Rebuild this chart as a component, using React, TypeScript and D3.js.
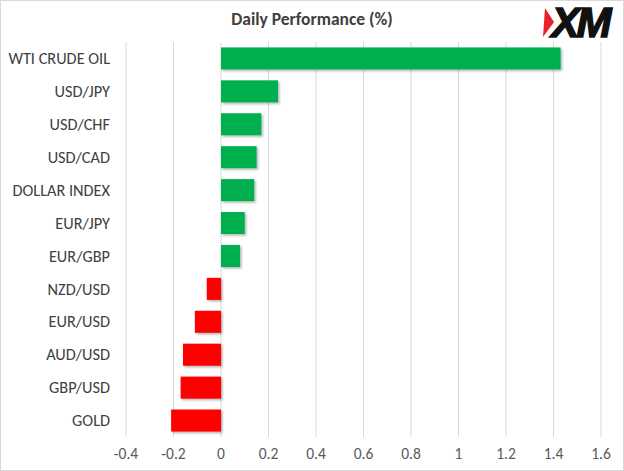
import React from "react";
import * as d3 from "d3";

const categories = [
  "WTI CRUDE OIL",
  "USD/JPY",
  "USD/CHF",
  "USD/CAD",
  "DOLLAR INDEX",
  "EUR/JPY",
  "EUR/GBP",
  "NZD/USD",
  "EUR/USD",
  "AUD/USD",
  "GBP/USD",
  "GOLD",
];
const values = [1.43, 0.24, 0.17, 0.15, 0.14, 0.1, 0.08, -0.06, -0.11, -0.16, -0.17, -0.21];
const ticks = [-0.4, -0.2, 0, 0.2, 0.4, 0.6, 0.8, 1, 1.2, 1.4, 1.6];
const tickLabels = ["-0.4", "-0.2", "0", "0.2", "0.4", "0.6", "0.8", "1", "1.2", "1.4", "1.6"];
const title = "Daily Performance (%)";

const W = 624;
const H = 471;
const font = "Calibri, Carlito, Lato, 'Open Sans', sans-serif";

export default function App() {
  const x = d3.scaleLinear().domain([-0.4, 1.6]).range([126, 601]);
  const y = d3.scaleBand<string>().domain(categories).range([42, 437]).paddingInner(0.33).paddingOuter(0.165);
  return (
    <svg
      width={W}
      height={H}
      style={{ position: "absolute", left: 0, top: 0, background: "#fff" }}
    >
      <defs>
        <filter id="sh" x="-10%" y="-30%" width="130%" height="180%">
          <feDropShadow dx="1.5" dy="1.5" stdDeviation="1" floodColor="#000" floodOpacity="0.3" />
        </filter>
      </defs>
      <rect x={0.5} y={0.5} width={W - 1} height={H - 1} fill="#fff" stroke="#d9d9d9" />
      <text x={312} y={25} textAnchor="middle" fontFamily={font} fontWeight="bold" fontSize={17.5} fill="#404040">
        {title}
      </text>
      {ticks.map((t) => (
        <line key={"g" + t} x1={x(t)} x2={x(t)} y1={42} y2={437} stroke="#d9d9d9" strokeWidth={1} />
      ))}
      {categories.map((c, i) => {
        const v = values[i];
        return (
          <rect
            key={c}
            x={x(Math.min(0, v))}
            y={y(c)}
            width={Math.abs(x(v) - x(0))}
            height={y.bandwidth()}
            fill={v >= 0 ? "#00b050" : "#ff0000"}
            filter="url(#sh)"
          />
        );
      })}
      {categories.map((c) => (
        <text
          key={"l" + c}
          x={110}
          y={(y(c) as number) + y.bandwidth() / 2}
          dy="0.35em"
          textAnchor="end"
          fontFamily={font}
          fontSize={16.3}
          fill="#404040"
        >
          {c}
        </text>
      ))}
      {ticks.map((t, i) => (
        <text key={"t" + t} x={x(t)} y={459} textAnchor="middle" fontFamily={font} fontSize={15.5} fill="#595959">
          {tickLabels[i]}
        </text>
      ))}
      <g>
        <polygon points="545,8 554,22 543,37" fill="#e8202a" />
        <text
          x={580}
          y={37}
          textAnchor="middle"
          fontFamily="'Liberation Sans', Arial, sans-serif"
          fontWeight="bold"
          fontStyle="italic"
          fontSize={42}
          letterSpacing={-3}
          fill="#111"
          stroke="#111"
          strokeWidth={1.5}
        >
          XM
        </text>
      </g>
    </svg>
  );
}
